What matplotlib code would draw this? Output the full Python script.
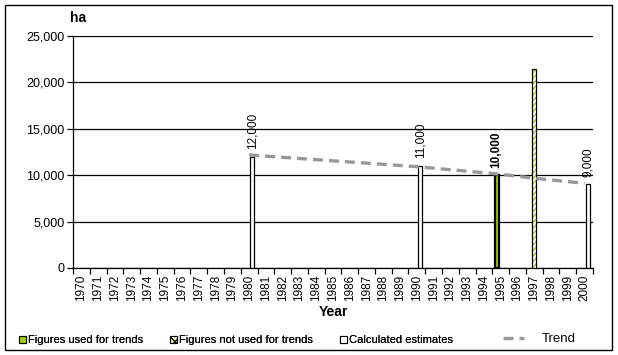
import numpy as np
import matplotlib.pyplot as plt
from matplotlib.patches import Patch, Rectangle
from matplotlib.lines import Line2D

plt.rcParams['font.family'] = ['Liberation Sans', 'DejaVu Sans']

# Data
years = list(range(1970, 2001))
used_years = [1995]
used_values = [10000]
notused_years = [1997]
notused_values = [21400]
calc_years = [1980, 1990, 2000]
calc_values = [12000, 11000, 9000]
trend_years = [1980, 1990, 1995, 1997, 2000]
trend_values = [12180, 10920, 10100, 9670, 9130]

green = '#99CC00'
idx = {y: i for i, y in enumerate(years)}

fig = plt.figure(figsize=(6.18, 3.55), dpi=100)
ax = fig.add_axes([73 / 618, 1 - 268 / 355, 520 / 618, 232 / 355])

w = 0.24
# used for trends (left slot)
xu = [idx[y] - w for y in used_years]
ax.bar(xu, used_values, width=w, color=green, edgecolor='black', linewidth=1.6, zorder=3)
# not used for trends (middle slot), hatched
xn = [idx[y] for y in notused_years]
ax.bar(xn, notused_values, width=w, color='white', edgecolor='#B5C800', hatch='//////', linewidth=0, zorder=3)
ax.bar(xn, notused_values, width=w, fill=False, edgecolor='black', linewidth=0.9, zorder=3)
# calculated estimates (right slot)
xc = [idx[y] + w * 0.8 for y in calc_years]
ax.bar(xc, calc_values, width=w, color='white', edgecolor='black', linewidth=0.9, zorder=3)

# trend line
ax.plot([idx[y] for y in trend_years], trend_values, color='#999999', lw=2.4,
        dashes=(3, 1.8), zorder=4)

# value labels
for x, v in zip(xu, used_values):
    ax.text(x, v + 800, f'{v:,}', rotation=90, ha='center', va='bottom', fontsize=8.5, fontweight='bold')
for x, v in zip(xc, calc_values):
    ax.text(x, v + 800, f'{v:,}', rotation=90, ha='center', va='bottom', fontsize=8.5)

ax.set_xlim(-0.5, len(years) - 0.5)
ax.set_ylim(0, 25000)
ax.set_yticks(np.arange(0, 25001, 5000))
ax.set_yticklabels([f'{v:,}' for v in range(0, 25001, 5000)], fontsize=9)
ax.yaxis.grid(True, color='black', lw=0.9)
ax.set_axisbelow(True)

# category boundaries as major ticks, labels at centres
ax.set_xticks(np.arange(-0.5, len(years), 1))
ax.set_xticklabels([])
ax.set_xticks(np.arange(len(years)), minor=True)
ax.set_xticklabels([str(y) for y in years], minor=True, rotation=90, fontsize=8.5)
ax.tick_params(axis='x', which='major', length=4, direction='out', width=0.9)
ax.tick_params(axis='x', which='minor', length=0, pad=5)
ax.tick_params(axis='y', length=4, width=0.9, pad=2)

for s in ['top', 'right']:
    ax.spines[s].set_visible(False)
for s in ['left', 'bottom']:
    ax.spines[s].set_linewidth(0.9)

ax.set_xlabel('Year', fontsize=10, fontweight='bold', labelpad=3)
fig.text(70 / 618, 1 - 18 / 355, 'ha', fontsize=10, fontweight='bold', ha='left', va='center')

# legend entries, placed one by one
entries = [
    (Patch(facecolor=green, edgecolor='black', lw=0.8, label='Figures used for trends'), 19),
    (Patch(facecolor='#EEF5B0', edgecolor='black', lw=0.8, hatch='xxxx',
           label='Figures not used for trends'), 170),
    (Patch(facecolor='white', edgecolor='black', lw=0.8, label='Calculated estimates'), 340),
]
for h, xpx in entries:
    leg = fig.legend(handles=[h], loc='center left', bbox_to_anchor=(xpx / 618, 1 - 340 / 355),
                     frameon=False, fontsize=8, handlelength=0.6, handleheight=0.6, handletextpad=0.2,
                     borderpad=0, borderaxespad=0)
    fig.add_artist(leg)
h2 = [Line2D([0], [0], color='#999999', lw=2.4, dashes=(3, 1.8), label='Trend')]
fig.legend(handles=h2, loc='center left', bbox_to_anchor=(503 / 618, 1 - 339 / 355),
           frameon=False, fontsize=9.5, handlelength=1.6, handletextpad=1.3,
           borderpad=0, borderaxespad=0)

# border around figure
fig.patches.append(Rectangle((5 / 618, 1 - 350 / 355), 607 / 618, 345 / 355, transform=fig.transFigure,
                             fill=False, edgecolor='black', lw=1.0))

fig.savefig('out.png', dpi=100)
